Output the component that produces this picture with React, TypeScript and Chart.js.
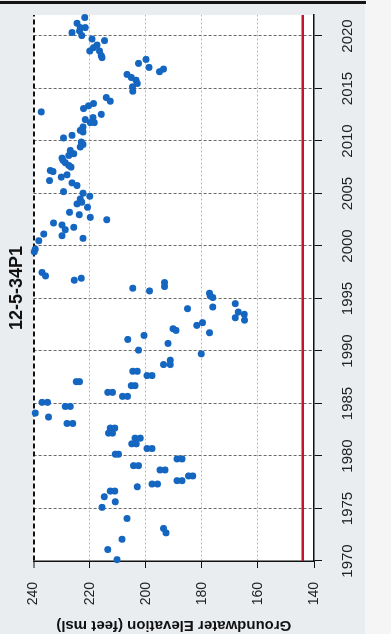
import React, { useEffect, useRef } from "react";
import { Chart, registerables } from "chart.js";

Chart.register(...registerables);

const TITLE = "12-5-34P1";
const Y_TITLE = "Groundwater Elevation (feet msl)";

const yearTicks = [1970, 1975, 1980, 1985, 1990, 1995, 2000, 2005, 2010, 2015, 2020];
const elevTicks = [140, 160, 180, 200, 220, 240];

const thresholdYears = [1970, 2022];
const thresholdValues = [144, 144];

const years = [
  2021.76, 2021.21, 2020.8, 2020.8, 2020.33, 2020.48, 2020.04, 2019.71, 2019.56, 2019.14,
  2018.89, 2018.57, 2018.57, 2018.13, 2017.94, 2017.77, 2017.39, 2017.01, 2016.85, 2016.6,
  2016.34, 2016.05, 2015.79, 2015.48, 2015.16, 2014.74, 2012.77, 2014.14, 2013.79, 2013.57,
  2013.35, 2013.09, 2012.54, 2012.04, 2012.23, 2011.75, 2011.75, 2011.34, 2010.86, 2011.01,
  2010.29, 2010.54, 2009.9, 2009.67, 2009.43, 2009.1, 2008.79, 2008.37, 2008.62, 2008.15,
  2007.93, 2007.67, 2007.51, 2007.19, 2007.09, 2006.23, 2006.56, 2006.78, 2006.01, 2005.76,
  2005.18, 2005.03, 2004.74, 2004.48, 2004.17, 2004.01, 2003.69, 2003.21, 2002.98, 2002.73,
  2002.5, 2002.19, 2002.0, 2001.55, 2001.78, 2000.98, 2000.73, 2001.14, 2000.5, 1999.7,
  1999.45, 1997.48, 1997.15, 1996.74, 1996.93, 1995.98, 1995.72, 1996.52, 1996.14, 1995.5,
  1995.24, 1995.09, 1994.51, 1994.19, 1994.03, 1993.71, 1993.49, 1993.17, 1992.94, 1992.44,
  1992.7, 1991.74, 1992.12, 1991.96, 1991.1, 1991.48, 1990.08, 1990.72, 1989.73, 1988.71,
  1989.12, 1988.71, 1988.07, 1988.07, 1987.66, 1987.66, 1987.08, 1987.08, 1986.7, 1986.7,
  1986.06, 1986.06, 1985.68, 1985.68, 1985.11, 1985.11, 1984.72, 1984.72, 1984.09, 1983.71,
  1983.1, 1983.1, 1982.66, 1982.66, 1982.18, 1982.18, 1981.7, 1981.7, 1981.16, 1981.16,
  1980.71, 1980.71, 1980.17, 1980.17, 1979.72, 1979.72, 1979.08, 1979.08, 1978.67, 1978.67,
  1977.65, 1977.65, 1978.1, 1978.1, 1977.33, 1977.33, 1977.07, 1976.66, 1976.66, 1976.12,
  1975.64, 1975.11, 1974.05, 1973.1, 1972.68, 1972.07, 1971.09, 1970.13,
];

const elevations = [
  221.8, 224.5, 223.4, 221.6, 226.3, 223.6, 222.8, 219.2, 214.7, 217.4,
  218.6, 220.0, 216.5, 215.9, 215.6, 199.9, 202.6, 198.8, 193.7, 195.1,
  206.7, 205.2, 203.5, 203.0, 204.7, 204.6, 237.3, 214.1, 212.7, 218.6,
  220.4, 222.2, 215.9, 221.6, 218.8, 219.8, 218.4, 222.4, 222.4, 223.4,
  229.3, 226.3, 223.0, 222.4, 223.4, 226.9, 225.7, 229.9, 227.5, 229.5,
  228.7, 227.5, 226.7, 234.1, 233.1, 234.3, 230.1, 228.1, 226.3, 224.5,
  229.3, 222.4, 220.0, 223.4, 222.8, 224.5, 220.8, 227.2, 223.7, 219.8,
  213.9, 232.9, 229.9, 228.7, 225.7, 229.9, 222.4, 236.4, 238.2, 239.4,
  239.8, 237.0, 235.8, 225.5, 223.0, 204.6, 198.7, 193.3, 193.3, 177.3,
  177.0, 176.1, 168.1, 176.1, 185.1, 167.0, 164.9, 168.1, 164.8, 181.8,
  179.8, 177.3, 190.3, 189.2, 206.4, 200.6, 202.6, 192.1, 180.2, 193.7,
  191.3, 191.3, 204.6, 203.0, 199.6, 197.8, 224.8, 223.6, 205.2, 203.8,
  213.6, 211.9, 208.3, 206.5, 237.0, 235.0, 228.7, 226.9, 239.4, 234.7,
  228.1, 226.0, 212.7, 211.1, 213.3, 211.9, 203.8, 202.0, 205.0, 203.4,
  199.6, 197.8, 210.9, 209.7, 188.9, 187.1, 204.4, 202.6, 194.9, 193.1,
  188.9, 187.1, 184.8, 183.2, 197.8, 195.8, 203.0, 212.7, 211.1, 214.8,
  210.9, 215.6, 206.7, 193.7, 192.8, 208.5, 213.6, 210.3,
];

const FONT = "'Liberation Sans', Arial, sans-serif";

export default function App() {
  const ref = useRef<HTMLCanvasElement>(null);

  useEffect(() => {
    document.body.style.margin = "0";
    const canvas = ref.current;
    if (!canvas) return;

    const bgPlugin = {
      id: "scanBg",
      beforeDraw(chart: any) {
        const { ctx, chartArea: a } = chart;
        ctx.save();
        ctx.fillStyle = "#eaedf0";
        ctx.fillRect(0, 0, chart.width, chart.height);
        ctx.fillStyle = "#ffffff";
        ctx.fillRect(a.left, a.top, a.right - a.left, a.bottom - a.top);
        ctx.restore();
      },
    };

    const chart = new Chart(canvas, {
      type: "scatter",
      data: {
        datasets: [
          {
            type: "line",
            data: thresholdYears.map((x, i) => ({ x, y: thresholdValues[i] })),
            borderColor: "#c3162c",
            borderWidth: 2.5,
            pointRadius: 0,
            order: 2,
          },
          {
            data: years.map((x, i) => ({ x, y: elevations[i] })),
            backgroundColor: "#1466c0",
            borderColor: "#1466c0",
            borderWidth: 0,
            pointRadius: 3.5,
            clip: false,
            order: 1,
          } as any,
        ],
      },
      options: {
        animation: false,
        responsive: false,
        layout: { padding: { top: 0, right: 15, bottom: 0, left: 0 } },
        plugins: {
          legend: { display: false },
          tooltip: { enabled: false },
          title: {
            display: true,
            fullSize: false,
            text: TITLE,
            color: "#111",
            font: { family: FONT, size: 18, weight: "bold" },
            padding: { top: 6, bottom: 6 },
          },
        },
        scales: {
          x: {
            type: "linear",
            min: 1970,
            max: 2022,
            afterBuildTicks: (s: any) => {
              s.ticks = yearTicks.map((v) => ({ value: v }));
            },
            afterFit: (s: any) => {
              s.height = 77;
            },
            ticks: {
              color: "#222",
              font: { family: FONT, size: 15 },
              padding: 17,
              maxRotation: 0,
              callback: (v: any) => String(v),
            },
            grid: {
              color: (c: any) => (c.tick && c.tick.value === 1970 ? "rgba(0,0,0,0)" : "#6a6a6a"),
              lineWidth: 1,
              tickColor: "#111",
              tickLength: 8,
              tickWidth: 1,
            },
            border: {
              display: true,
              color: "#111",
              width: 1.5,
              dash: (c: any) => (c.tick ? [3, 2] : []),
            },
          },
          y: {
            type: "linear",
            min: 140,
            max: 240,
            afterBuildTicks: (s: any) => {
              s.ticks = elevTicks.map((v) => ({ value: v }));
            },
            afterFit: (s: any) => {
              s.width = 73;
            },
            ticks: {
              color: "#222",
              font: { family: FONT, size: 14 },
              padding: 14,
              callback: (v: any) => String(v),
            },
            grid: {
              color: (c: any) => {
                if (!c.tick) return "#bbb";
                if (c.tick.value === 240) return "#111";
                if (c.tick.value === 140) return "rgba(0,0,0,0)";
                return "#b8b8b8";
              },
              lineWidth: (c: any) => (c.tick && c.tick.value === 240 ? 2 : 1),
              tickColor: "#111",
              tickLength: 7,
              tickWidth: 1,
            },
            border: {
              display: true,
              color: "#111",
              width: 1.5,
              dash: (c: any) => {
                if (!c.tick) return [];
                if (c.tick.value === 240) return [5, 3];
                return [2, 2];
              },
            },
            title: {
              display: true,
              text: Y_TITLE,
              color: "#111",
              font: { family: FONT, size: 15, weight: "bold" },
              padding: { top: 0, bottom: 0 },
            },
          },
        },
      },
      plugins: [bgPlugin],
    } as any);

    return () => chart.destroy();
  }, []);

  return (
    <div
      style={{
        position: "fixed",
        left: 0,
        top: 0,
        width: 391,
        height: 634,
        overflow: "hidden",
        background: "#eaedf0",
      }}
    >
      <div
        style={{
          position: "absolute",
          left: 0,
          top: 0,
          width: 634,
          height: 391,
          transformOrigin: "0 0",
          transform: "translateY(634px) rotate(-90deg)",
        }}
      >
        <canvas ref={ref} width={634} height={391} style={{ display: "block", width: 634, height: 391 }} />
      </div>
      <div style={{ position: "absolute", left: 365, top: 0, width: 26, height: 634, background: "#f5f5f5" }} />
      <div style={{ position: "absolute", left: 0, top: 1, width: 366, height: 3, background: "#151515" }} />
    </div>
  );
}
